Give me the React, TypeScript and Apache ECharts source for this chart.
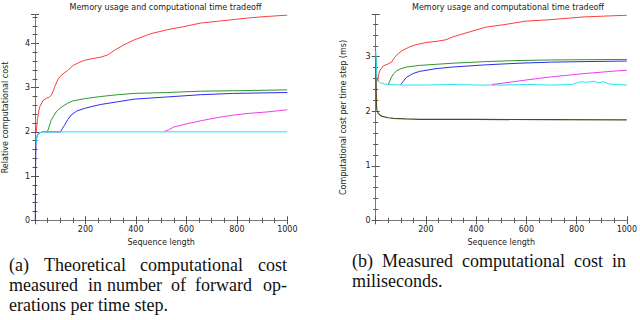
import React, { useEffect, useRef } from "react";
import * as echarts from "echarts";

// ---------- data: (a) theoretical cost ----------
const xTicksA = [200, 400, 600, 800, 1000];
const redA = [[5,2.0],[10,2.3],[18,2.56],[32,2.71],[45,2.76],[58,2.79],[64,2.83],[72,2.92],[78,3.02],[88,3.15],[97,3.24],[115,3.33],[130,3.39],[150,3.5],[175,3.57],[196,3.62],[230,3.66],[261,3.69],[288,3.74],[314,3.84],[353,3.97],[393,4.08],[459,4.22],[524,4.31],[590,4.38],[656,4.46],[721,4.5],[787,4.54],[853,4.58],[919,4.61],[1000,4.64]];
const greenA = [[49,2.0],[56,2.12],[64,2.26],[74,2.36],[84,2.45],[96,2.52],[110,2.58],[130,2.65],[150,2.7],[196,2.75],[261,2.8],[327,2.84],[393,2.87],[524,2.89],[656,2.92],[787,2.93],[1000,2.95]];
const blueA = [[1,0],[2,0.95],[3,1.5],[4,1.75],[6,1.85],[9,1.92],[14,1.96],[20,1.98],[30,2.0],[101,2.0],[108,2.07],[117,2.15],[130,2.28],[143,2.38],[165,2.47],[196,2.53],[230,2.58],[261,2.62],[327,2.68],[393,2.74],[524,2.79],[656,2.84],[787,2.87],[1000,2.89]];
const magentaA = [[511,2.0],[530,2.05],[550,2.11],[600,2.18],[656,2.25],[720,2.32],[787,2.38],[850,2.42],[919,2.45],[1000,2.5]];
const cyanA = [[4,1.75],[6,1.85],[9,1.92],[14,1.96],[20,1.98],[30,2.0],[40,2.0],[1000,2.0]];

// ---------- data: (b) measured cost (ms) ----------
const redB = [[8,2.55],[12,2.68],[17,2.75],[30,2.83],[50,2.87],[63,2.9],[70,2.95],[76,2.99],[90,3.06],[109,3.12],[135,3.18],[161,3.22],[200,3.26],[240,3.28],[279,3.31],[305,3.36],[340,3.41],[371,3.45],[436,3.54],[515,3.59],[594,3.65],[699,3.68],[830,3.73],[1000,3.76]];
const greenB = [[50,2.49],[56,2.55],[63,2.63],[72,2.69],[83,2.74],[100,2.78],[122,2.81],[174,2.84],[240,2.86],[305,2.88],[436,2.91],[567,2.93],[699,2.94],[1000,2.95]];
const blueB = [[100,2.49],[110,2.55],[122,2.62],[148,2.69],[174,2.73],[240,2.78],[305,2.81],[436,2.85],[567,2.88],[699,2.9],[830,2.91],[1000,2.92]];
const magentaB = [[463,2.49],[515,2.52],[594,2.57],[699,2.63],[830,2.69],[961,2.74],[1000,2.75]];
const cyanB = [[1,3.1],[3,2.75],[5,2.6],[10,2.55],[20,2.52],[35,2.5],[50,2.49],[100,2.48],[200,2.48],[300,2.49],[400,2.48],[500,2.48],[600,2.49],[700,2.48],[780,2.49],[816,2.54],[840,2.53],[869,2.55],[885,2.52],[908,2.54],[930,2.5],[961,2.49],[1000,2.48]];
const oliveB = [[1,3.0],[2,2.4],[3,2.1],[5,2.02],[10,1.96],[20,1.92],[30,1.9],[50,1.88],[70,1.87],[120,1.86],[174,1.85],[400,1.85],[700,1.845],[1000,1.84]];

const titleText = "Memory usage and computational time tradeoff";
const xName = "Sequence length";
const yNameA = "Relative computational cost";
const yNameB = "Computational cost per time step (ms)";
const yMaxA = 4.65;
const yMaxB = 3.77;

const captionA = [
  ["(a)", "Theoretical", "computational", "cost"],
  ["measured", "in", "number", "of", "forward", "op-"],
  ["erations per time step."],
];
const captionB = [
  ["(b)", "Measured", "computational", "cost", "in"],
  ["miliseconds."],
];

const C = {
  red: "#ff3c3c",
  green: "#2e962e",
  blue: "#2d2df0",
  magenta: "#f03cf0",
  cyan: "#22e4ee",
  olive: "#4d4d1c",
};

const SANS = "DejaVu Sans";
const SERIF = "Liberation Serif";
const FRAME = "#7a7a7a";

function xAxes(grid: number) {
  const base = {
    gridIndex: grid,
    type: "value",
    min: 0,
    max: 1000,
    interval: 200,
    splitLine: { show: false },
    axisLine: { show: true, lineStyle: { color: FRAME, width: 1 } },
    axisTick: { show: true, inside: true, length: 4, lineStyle: { color: "#555" } },
    minorTick: { show: true, splitNumber: 4, length: 2.5, lineStyle: { color: "#555" } },
  };
  return [
    {
      ...base,
      position: "bottom",
      name: xName,
      nameLocation: "middle",
      nameGap: 18,
      nameTextStyle: { fontFamily: SANS, fontSize: 8, color: "#222" },
      axisLabel: {
        show: true,
        fontFamily: SANS,
        fontSize: 8,
        color: "#222",
        margin: 5,
        showMinLabel: false,
        formatter: (v: number) => (xTicksA.includes(v) ? String(v) : ""),
      },
    },
    { ...base, position: "top", axisLabel: { show: false } },
  ];
}

function yAxes(grid: number, max: number, name: string, gap: number) {
  const base = {
    gridIndex: grid,
    type: "value",
    min: 0,
    max,
    interval: 1,
    splitLine: { show: false },
    axisLine: { show: true, lineStyle: { color: FRAME, width: 1 } },
    axisTick: { show: true, inside: true, length: 4, lineStyle: { color: "#555" } },
    minorTick: { show: true, splitNumber: 5, length: 2.5, lineStyle: { color: "#555" } },
  };
  return [
    {
      ...base,
      position: "left",
      name,
      nameLocation: "middle",
      nameGap: gap,
      nameTextStyle: { fontFamily: SANS, fontSize: 8, color: "#222" },
      axisLabel: {
        show: true,
        fontFamily: SANS,
        fontSize: 8,
        color: "#222",
        margin: 5,
        showMaxLabel: false,
        formatter: (v: number) => (Number.isInteger(v) ? String(v) : ""),
      },
    },
    { ...base, position: "right", axisLabel: { show: false } },
  ];
}

function line(data: number[][], color: string, xi: number, yi: number, width = 1) {
  return {
    type: "line",
    data,
    xAxisIndex: xi,
    yAxisIndex: yi,
    showSymbol: false,
    symbol: "none",
    smooth: false,
    lineStyle: { color, width },
    itemStyle: { color },
    z: 3,
  };
}

function captionGraphics() {
  const out: any[] = [];
  const leftX = [
    [9, 44, 140, 258],
    [9, 88, 107, 171, 195, 263],
    [9],
  ];
  const leftBase = [273.5, 293.5, 313.5];
  captionA.forEach((words, i) =>
    words.forEach((w, j) =>
      out.push({
        type: "text",
        x: leftX[i][j],
        y: leftBase[i],
        style: { text: w, fontFamily: SERIF, fontSize: 18, fill: "#111", textAlign: "left", textVerticalAlign: "bottom" },
        silent: true,
      })
    )
  );
  const rightX = [[352, 382, 462, 574, 612], [352]];
  const rightBase = [270, 289.5];
  captionB.forEach((words, i) =>
    words.forEach((w, j) =>
      out.push({
        type: "text",
        x: rightX[i][j],
        y: rightBase[i],
        style: { text: w, fontFamily: SERIF, fontSize: 18, fill: "#111", textAlign: "left", textVerticalAlign: "bottom" },
        silent: true,
      })
    )
  );
  return out;
}

export default function App() {
  const ref = useRef<HTMLDivElement>(null);
  useEffect(() => {
    if (!ref.current) return;
    const chart = echarts.init(ref.current, null, { renderer: "svg" });
    const option: any = {
      animation: false,
      backgroundColor: "#ffffff",
      title: [
        { text: titleText, left: 160.5, top: -2, textAlign: "center", textStyle: { fontFamily: SANS, fontSize: 8, fontWeight: "normal", color: "#222" } },
        { text: titleText, left: 503, top: -2, textAlign: "center", textStyle: { fontFamily: SANS, fontSize: 8, fontWeight: "normal", color: "#222" } },
      ],
      grid: [
        { left: 33.6, top: 14.7, width: 253.7, height: 205.6, containLabel: false },
        { left: 375.7, top: 14.7, width: 254.3, height: 205.6, containLabel: false },
      ],
      xAxis: [...xAxes(0), ...xAxes(1)],
      yAxis: [...yAxes(0, yMaxA, yNameA, 26), ...yAxes(1, yMaxB, yNameB, 28)],
      series: [
        line(blueA, C.blue, 0, 0),
        line(magentaA, C.magenta, 0, 0),
        line(greenA, C.green, 0, 0),
        line(redA, C.red, 0, 0),
        line(cyanA, C.cyan, 0, 0),
        line(oliveB, C.olive, 2, 2, 1.2),
        line(cyanB, C.cyan, 2, 2),
        line(magentaB, C.magenta, 2, 2),
        line(blueB, C.blue, 2, 2),
        line(greenB, C.green, 2, 2),
        line(redB, C.red, 2, 2),
      ],
      graphic: captionGraphics(),
    };
    chart.setOption(option);
    return () => chart.dispose();
  }, []);
  return (
    <div
      ref={ref}
      style={{ position: "fixed", left: 0, top: 0, width: 640, height: 320, background: "#fff" }}
    />
  );
}
